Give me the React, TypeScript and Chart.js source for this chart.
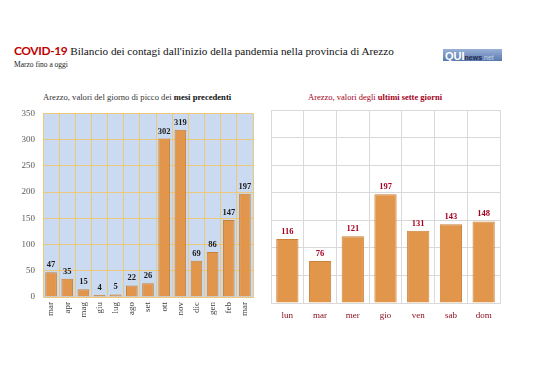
import React, { useEffect, useRef } from "react";
import { Chart, registerables } from "chart.js";
Chart.register(...registerables);

const monthLabels = ["mar", "apr", "mag", "giu", "lug", "ago", "set", "ott", "nov", "dic", "gen", "feb", "mar"];
const monthValues = [47, 35, 15, 4, 5, 22, 26, 302, 319, 69, 86, 147, 197];
const dayLabels = ["lun", "mar", "mer", "gio", "ven", "sab", "dom"];
const dayValues = [116, 76, 121, 197, 131, 143, 148];
const yMax = 350;
const yStep = 50;

const BAR = "#e2964c";
const BAR_BORDER = "#c98037";
const GOLD = "#ebc978";
const SERIF = "'Liberation Serif', 'DejaVu Serif', serif";

const labelPlugin = (color: string) => ({
  id: "valueLabels",
  afterDatasetsDraw(chart: any) {
    const ctx = chart.ctx;
    const meta = chart.getDatasetMeta(0);
    const data = chart.data.datasets[0].data as number[];
    ctx.save();
    ctx.font = `bold 8.5px ${SERIF}`;
    ctx.fillStyle = color;
    ctx.textAlign = "center";
    ctx.textBaseline = "bottom";
    meta.data.forEach((el: any, i: number) => {
      ctx.fillText(String(data[i]), el.x, el.y - 3);
    });
    ctx.restore();
  },
});

function LeftChart() {
  const ref = useRef<HTMLCanvasElement>(null);
  useEffect(() => {
    const chart = new Chart(ref.current!, {
      type: "bar",
      data: {
        labels: monthLabels,
        datasets: [
          {
            data: monthValues,
            backgroundColor: BAR,
            borderColor: BAR_BORDER,
            borderWidth: 1,
            barPercentage: 0.72,
            categoryPercentage: 1,
          },
        ],
      },
      options: {
        responsive: false,
        animation: false,
        events: [],
        layout: { padding: { left: 0, right: 17, top: 12, bottom: 0 } },
        plugins: { legend: { display: false }, tooltip: { enabled: false } },
        scales: {
          x: {
            grid: { color: GOLD, offset: true, drawTicks: false },
            border: { color: GOLD },
            ticks: {
              minRotation: 90,
              maxRotation: 90,
              padding: 5,
              color: "#404040",
              font: { family: SERIF, size: 9 },
            },
            afterFit: (s: any) => {
              s.height = 53;
            },
          },
          y: {
            min: 0,
            max: yMax,
            grid: { color: GOLD, drawTicks: false },
            border: { color: GOLD },
            ticks: {
              stepSize: yStep,
              padding: 8,
              color: "#595959",
              font: { family: SERIF, size: 9 },
            },
            afterFit: (s: any) => {
              s.width = 43;
            },
          },
        },
      },
      plugins: [
        {
          id: "bg",
          beforeDraw(c: any) {
            const a = c.chartArea;
            c.ctx.save();
            c.ctx.fillStyle = "#cadaf0";
            c.ctx.fillRect(a.left, a.top, a.right - a.left, a.bottom - a.top);
            c.ctx.restore();
          },
        },
        labelPlugin("#1a1a1a"),
      ],
    } as any);
    return () => chart.destroy();
  }, []);
  return (
    <canvas
      ref={ref}
      width={270}
      height={250}
      style={{ position: "absolute", left: 0, top: 100, width: 270, height: 250 }}
    />
  );
}

function RightChart() {
  const ref = useRef<HTMLCanvasElement>(null);
  useEffect(() => {
    const chart = new Chart(ref.current!, {
      type: "bar",
      data: {
        labels: dayLabels,
        datasets: [
          {
            data: dayValues,
            backgroundColor: BAR,
            borderColor: BAR_BORDER,
            borderWidth: 1,
            barPercentage: 0.68,
            categoryPercentage: 1,
          },
        ],
      },
      options: {
        responsive: false,
        animation: false,
        events: [],
        layout: { padding: { left: 9, right: 38, top: 10, bottom: 0 } },
        plugins: { legend: { display: false }, tooltip: { enabled: false } },
        scales: {
          x: {
            grid: { color: "#d9d9d9", offset: true, drawTicks: false },
            border: { color: "#d9d9d9" },
            ticks: {
              maxRotation: 0,
              padding: 7,
              color: "#8b1020",
              font: { family: SERIF, size: 9 },
            },
            afterFit: (s: any) => {
              s.height = 47;
            },
          },
          y: {
            min: 0,
            max: yMax,
            grid: { color: "#d9d9d9", drawTicks: false },
            border: { display: false },
            ticks: { stepSize: yStep, display: false },
            afterFit: (s: any) => {
              s.width = 0;
            },
          },
        },
      },
      plugins: [labelPlugin("#a50021")],
    } as any);
    return () => chart.destroy();
  }, []);
  return (
    <canvas
      ref={ref}
      width={276}
      height={250}
      style={{ position: "absolute", left: 262, top: 100, width: 276, height: 250 }}
    />
  );
}

export default function App() {
  useEffect(() => {
    document.body.style.margin = "0";
  }, []);
  return (
    <div style={{ position: "relative", width: 538, height: 380, background: "#fff", overflow: "hidden" }}>
      <div
        style={{
          position: "absolute",
          left: 14,
          top: 43,
          whiteSpace: "nowrap",
          fontFamily: SERIF,
          fontSize: 11.2,
          color: "#111",
        }}
      >
        <span
          style={{
            fontFamily: "Lato, 'Open Sans', sans-serif",
            fontWeight: 700,
            fontSize: 12,
            letterSpacing: -0.4,
            color: "#c00000",
          }}
        >
          COVID-19
        </span>{" "}
        Bilancio dei contagi dall'inizio della pandemia nella provincia di Arezzo
      </div>
      <div style={{ position: "absolute", left: 14, top: 60, fontFamily: SERIF, fontSize: 7.5, color: "#222", whiteSpace: "nowrap" }}>
        Marzo fino a oggi
      </div>
      <div
        style={{
          position: "absolute",
          left: 443,
          top: 49,
          width: 59,
          height: 12,
          background: "linear-gradient(#9ab2d8, #5a78ad)",
          fontFamily: "'Liberation Sans', sans-serif",
          lineHeight: "12px",
          whiteSpace: "nowrap",
          overflow: "hidden",
        }}
      >
        <span style={{ color: "#fff", fontWeight: 700, fontSize: 11, marginLeft: 2 }}>QUI</span>
        <span style={{ color: "#1d2a4a", fontWeight: 700, fontSize: 7 }}>news</span>
        <span style={{ color: "#c8d4ea", fontSize: 7 }}>.net</span>
      </div>
      <div style={{ position: "absolute", left: 43, top: 92, fontFamily: SERIF, fontSize: 8.6, color: "#333", whiteSpace: "nowrap" }}>
        Arezzo, valori del giorno di picco dei <b style={{ color: "#111" }}>mesi precedenti</b>
      </div>
      <div style={{ position: "absolute", left: 308, top: 92, fontFamily: SERIF, fontSize: 8.5, color: "#a50021", whiteSpace: "nowrap" }}>
        Arezzo, valori degli <b>ultimi sette giorni</b>
      </div>
      <LeftChart />
      <RightChart />
    </div>
  );
}
